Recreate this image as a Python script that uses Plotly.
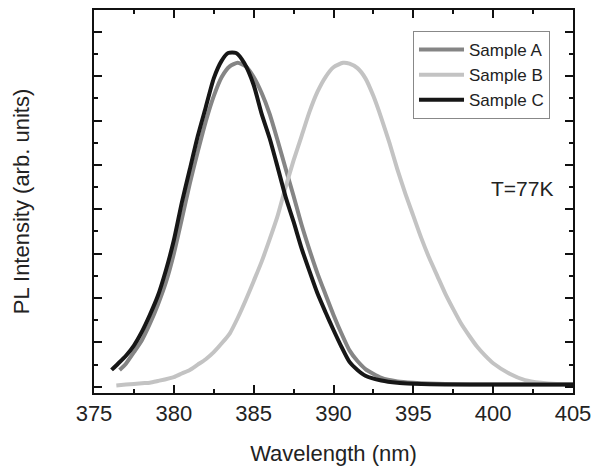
import plotly.graph_objects as go

# ---- data ----
wl_a = [376.6, 377.0, 377.5, 378.0, 378.5, 379.0, 379.5, 380.0, 380.5, 381.0, 381.5, 382.0,
        382.5, 383.0, 383.5, 384.0, 384.5, 385.0, 385.5, 386.0, 386.5, 387.0, 387.5, 388.0,
        388.5, 389.0, 389.5, 390.0, 390.5, 391.0, 391.5, 392.0, 393.0, 394.0, 395.0, 397.0,
        400.0, 405.0]
pl_a = [0.38, 0.52, 0.78, 1.05, 1.42, 1.85, 2.35, 3.00, 3.78, 4.58, 5.30, 5.98,
        6.55, 6.98, 7.22, 7.30, 7.22, 6.98, 6.62, 6.15, 5.55, 4.92, 4.30, 3.65,
        3.08, 2.55, 2.08, 1.62, 1.20, 0.82, 0.58, 0.40, 0.20, 0.12, 0.09, 0.06,
        0.05, 0.05]

wl_b = [376.4, 377.0, 378.0, 378.5, 379.0, 380.0, 380.5, 381.0, 381.5, 382.0, 382.5, 383.0,
        383.5, 384.0, 384.5, 385.0, 385.5, 386.0, 386.5, 387.0, 387.5, 388.0, 388.5, 389.0,
        389.5, 390.0, 390.6, 391.0, 391.5, 392.0, 392.5, 393.0, 393.5, 394.0, 394.5, 395.0,
        395.5, 396.0, 396.5, 397.0, 397.5, 398.0, 398.5, 399.0, 399.5, 400.0, 401.0, 402.0,
        403.0, 404.0, 405.0]
pl_b = [0.03, 0.05, 0.08, 0.09, 0.13, 0.22, 0.30, 0.38, 0.50, 0.62, 0.78, 0.98,
        1.20, 1.55, 1.95, 2.38, 2.82, 3.32, 3.85, 4.50, 5.10, 5.65, 6.20, 6.65,
        6.98, 7.20, 7.30, 7.28, 7.18, 6.95, 6.55, 6.05, 5.50, 4.90, 4.35, 3.85,
        3.35, 2.90, 2.50, 2.10, 1.75, 1.42, 1.15, 0.90, 0.70, 0.53, 0.30, 0.15,
        0.09, 0.06, 0.05]

wl_c = [376.1, 376.5, 377.0, 377.5, 378.0, 378.5, 379.0, 379.5, 380.0, 380.5, 381.0, 381.5,
        382.0, 382.5, 383.0, 383.4, 383.9, 384.4, 385.0, 385.5, 386.0, 386.5, 387.0, 387.5,
        388.0, 388.5, 389.0, 389.5, 390.0, 390.5, 391.0, 391.5, 392.0, 393.0, 394.0, 395.0,
        397.0, 400.0, 405.0]
pl_c = [0.38, 0.52, 0.70, 0.93, 1.24, 1.62, 2.05, 2.62, 3.30, 4.15, 4.90, 5.65,
        6.30, 6.95, 7.35, 7.52, 7.52, 7.30, 6.80, 6.15, 5.60, 4.95, 4.28, 3.72,
        3.12, 2.60, 2.10, 1.68, 1.28, 0.90, 0.56, 0.38, 0.25, 0.14, 0.09, 0.07,
        0.05, 0.05, 0.05]

names = ["Sample A", "Sample B", "Sample C"]
colors = ["#858585", "#c3c3c3", "#161616"]

FONT = "Arial, Liberation Sans, Helvetica, sans-serif"

fig = go.Figure()
for wl, pl, name, col in zip([wl_a, wl_b, wl_c], [pl_a, pl_b, pl_c], names, colors):
    fig.add_trace(go.Scatter(x=wl, y=pl, mode="lines", name=name,
                             line=dict(color=col, width=4, shape="spline", smoothing=0.6)))

axis_common = dict(
    showline=True, linecolor="#111", linewidth=2, mirror="allticks",
    ticks="inside", tickcolor="#111", tickwidth=2, ticklen=8,
    showgrid=False, zeroline=False, automargin=False,
)

fig.update_xaxes(
    **axis_common,
    range=[375, 405], tickmode="linear", tick0=375, dtick=5,
    minor=dict(ticks="inside", dtick=2.5, tick0=375, ticklen=4, tickwidth=2, tickcolor="#111", showgrid=False),
    tickfont=dict(family=FONT, size=22, color="#222"),
    title=dict(text="Wavelength (nm)", font=dict(family=FONT, size=22, color="#222"), standoff=22),
)
fig.update_yaxes(
    **axis_common,
    range=[-0.14, 8.49], tickmode="linear", tick0=0, dtick=1,
    minor=dict(ticks="inside", dtick=0.5, tick0=0, ticklen=4, tickwidth=2, tickcolor="#111", showgrid=False),
    showticklabels=False,
    title=dict(text="PL Intensity (arb. units)", font=dict(family=FONT, size=22, color="#222"), standoff=56),
)

fig.add_annotation(text="T=77K", xref="paper", yref="paper", x=0.962, y=0.535,
                   xanchor="right", yanchor="middle", showarrow=False,
                   font=dict(family=FONT, size=21, color="#222"))

fig.update_layout(
    width=602, height=466,
    margin=dict(l=94, r=29, t=10, b=73),
    paper_bgcolor="white", plot_bgcolor="white",
    showlegend=True,
    legend=dict(x=0.666, y=0.945, xanchor="left", yanchor="top",
                bgcolor="white", bordercolor="#888", borderwidth=1,
                font=dict(family=FONT, size=17, color="#222"),
                tracegroupgap=0, itemwidth=45),
)

fig.write_html("out.html", config={"displayModeBar": False},
               post_script="document.body.style.margin='0';document.body.style.overflow='hidden';")
